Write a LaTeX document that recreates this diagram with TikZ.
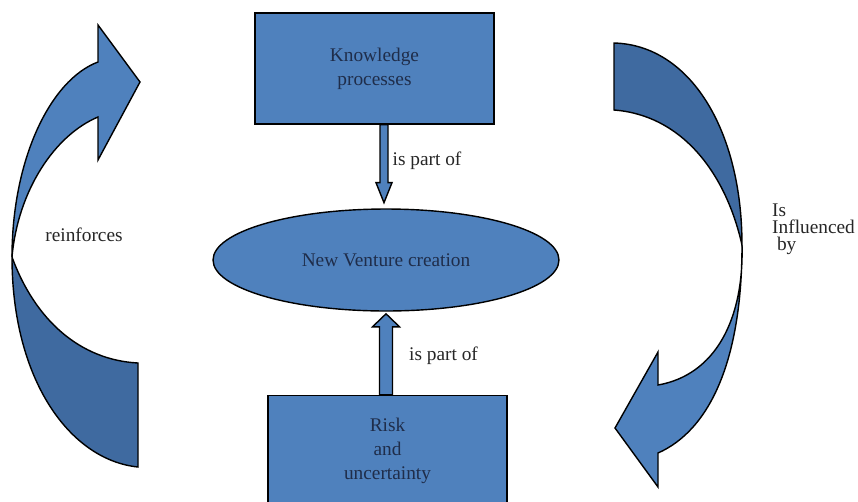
\documentclass[tikz,border=0pt]{standalone}
\usepackage{fontspec}
\setmainfont{Liberation Serif}
\usepackage{tikz}
\usetikzlibrary{positioning,calc,shapes.geometric}

\definecolor{boxblue}{HTML}{4F81BD}
\definecolor{darkblue}{HTML}{3F6AA0}
\definecolor{txtblue}{HTML}{1F2D4A}

\tikzset{
  box/.style={draw, thick, fill=boxblue, minimum width=4.78cm, minimum height=2.22cm,
    align=center, text=txtblue, font=\fontsize{11}{13.5}\selectfont},
  blockarr/.style={draw, thick, fill=boxblue},
  bandlight/.style={draw, thick, fill=boxblue},
  banddark/.style={draw, thick, fill=darkblue},
  lbl/.style={font=\fontsize{11}{13.5}\selectfont, text=black!85}
}

\begin{document}
\begin{tikzpicture}[x=0.02cm, y=-0.02cm]
    \useasboundingbox (0,0) rectangle (858,501);
    \clip (0,0) rectangle (858,501);

    \node[box] (know) at (374.5,68.5) {Knowledge\\processes};
    \node[box, ellipse, minimum width=6.92cm, minimum height=2.04cm] (nvc) at (386,260) {New Venture creation};
    \node[box] (risk) at (387.5,451) {Risk\\and\\uncertainty};

    % block arrows between the boxes
    \coordinate (kp) at ($(know.south)+(9.5,0)$);
    \draw[blockarr] (kp) ++(-4,0) -- ++(0,58) -- ++(-4,0) -- ++(8,20) -- ++(8,-20) -- ++(-4,0) -- ++(0,-58) -- cycle;
    \node[lbl] (part1) at (427,161) {is part of};

    \coordinate (rp) at ($(risk.north)+(-1.5,0)$);
    \draw[blockarr] (rp) ++(-6.5,0) -- ++(0,-68) -- ++(-7,0) -- ++(13.5,-13) -- ++(13.5,13) -- ++(-7,0) -- ++(0,68) -- cycle;
    \node[lbl] (part2) at (443.5,356) {is part of};

    % left curved arrow
    \draw[banddark] (12,257) .. controls (12,380) and (70,460) .. (138,467)
        -- (138,363) .. controls (80,360) and (35,320) .. (12,257) -- cycle;
    \draw[bandlight] (12,257) .. controls (12,160) and (50,80) .. (98,62)
        -- (98,25) -- (140,82) -- (98,160) -- (98,117)
        .. controls (55,135) and (18,190) .. (12,257) -- cycle;
    \node[lbl] (reinf) at (84,235) {reinforces};

    % right curved arrow
    \draw[banddark] (614,43) .. controls (690,45) and (742,130) .. (742,245)
        .. controls (725,170) and (680,115) .. (614,110) -- cycle;
    \draw[bandlight] (742,245) .. controls (742,360) and (710,430) .. (658,453)
        -- (658,487) -- (615,428) -- (658,352) -- (658,385)
        .. controls (715,375) and (744,320) .. (742,245) -- cycle;
    \node[lbl, align=left, anchor=west, font=\fontsize{11}{9.8}\selectfont] (infl) at (766,229) {Is\\Influenced\\\hspace{0.25em}by};
\end{tikzpicture}
\end{document}
